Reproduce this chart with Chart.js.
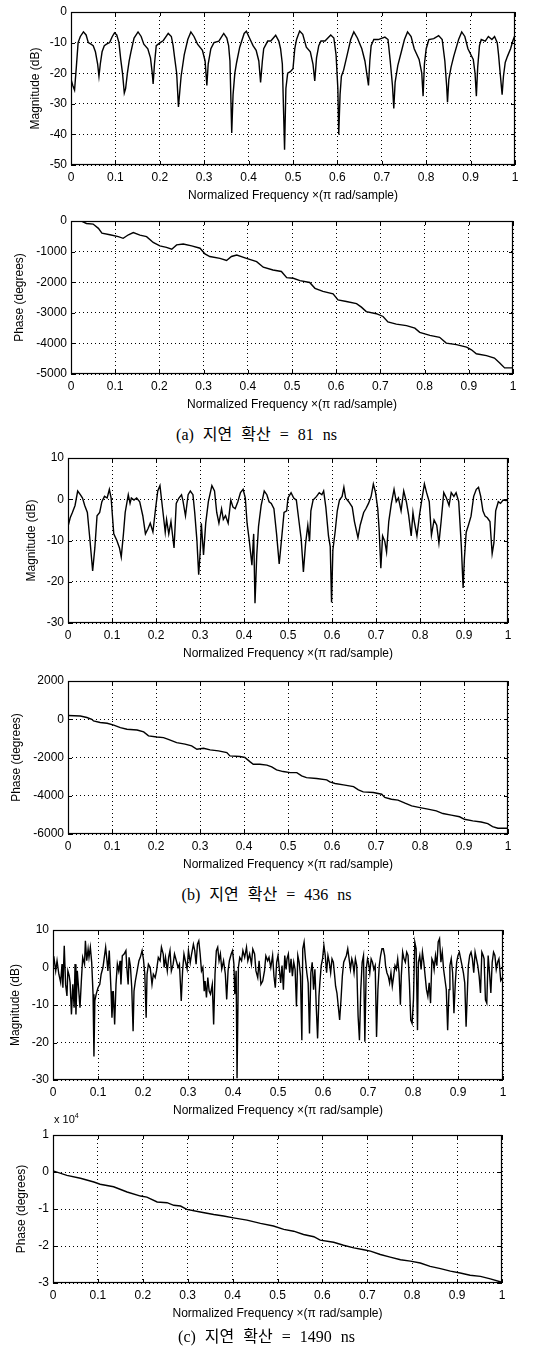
<!DOCTYPE html>
<html><head><meta charset="utf-8">
<script src="https://cdn.jsdelivr.net/npm/chart.js@4.4.1/dist/chart.umd.min.js"></script>
<style>
html,body{margin:0;padding:0;background:#fff;}
body{width:533px;height:1358px;position:relative;overflow:hidden;}
canvas{position:absolute;left:0;}
.cap{position:absolute;left:0;width:533px;text-align:center;font-family:"Liberation Serif","Noto Sans CJK KR",serif;font-size:16px;line-height:20px;color:#000;word-spacing:5px;white-space:pre;}
.exp{position:absolute;font-family:"Liberation Sans",Arial,sans-serif;font-size:11px;color:#000;line-height:12px;}
.exp sup{font-size:7px;vertical-align:5px;}
</style></head><body>
<canvas id="c1"></canvas>
<canvas id="c2"></canvas>
<div class="cap" id="capA" style="top:425px;left:-10px">(a) 지연 확산 = 81 ns</div>
<canvas id="c3"></canvas>
<canvas id="c4"></canvas>
<div class="cap" id="capB" style="top:885px">(b) 지연 확산 = 436 ns</div>
<canvas id="c5"></canvas>
<div class="exp" style="left:54px;top:1110px">x 10<sup>4</sup></div>
<canvas id="c6"></canvas>
<div class="cap" id="capC" style="top:1327px">(c) 지연 확산 = 1490 ns</div>
<script>
// ---------- tick values ----------
const freqTicks = [0,0.1,0.2,0.3,0.4,0.5,0.6,0.7,0.8,0.9,1];
const freqTickLabels = ['0','0.1','0.2','0.3','0.4','0.5','0.6','0.7','0.8','0.9','1'];
const magATicks = [0,-10,-20,-30,-40,-50];
const phaseATicks = [0,-1000,-2000,-3000,-4000,-5000];
const magBTicks = [10,0,-10,-20,-30];
const phaseBTicks = [2000,0,-2000,-4000,-6000];
const magCTicks = [10,0,-10,-20,-30];
const phaseCTicks = [10000,0,-10000,-20000,-30000];

// ---------- (a) magnitude ----------
const magAFreq = [
0,0.004,0.008,0.012,0.016,0.021,0.028,0.034,0.039,0.045,
0.05,0.055,0.06,0.063,0.066,0.07,0.075,0.08,0.087,0.093,
0.098,0.103,0.108,0.112,0.116,0.12,0.123,0.127,0.131,0.135,
0.142,0.151,0.158,0.164,0.173,0.179,0.183,0.185,0.188,0.192,
0.201,0.208,0.219,0.226,0.23,0.233,0.238,0.242,0.245,0.248,
0.255,0.263,0.27,0.277,0.285,0.296,0.302,0.306,0.309,0.315,
0.322,0.333,0.344,0.351,0.355,0.358,0.362,0.365,0.369,0.373,
0.38,0.39,0.395,0.402,0.41,0.417,0.423,0.427,0.431,0.434,
0.443,0.45,0.461,0.468,0.472,0.476,0.481,0.484,0.488,0.494,
0.5,0.504,0.508,0.515,0.522,0.53,0.539,0.545,0.549,0.553,
0.558,0.563,0.572,0.585,0.592,0.597,0.601,0.603,0.606,0.609,
0.614,0.622,0.63,0.637,0.645,0.655,0.662,0.667,0.67,0.673,
0.676,0.682,0.692,0.707,0.714,0.719,0.724,0.727,0.73,0.736,
0.744,0.751,0.758,0.766,0.773,0.784,0.79,0.793,0.796,0.8,
0.806,0.817,0.828,0.836,0.842,0.846,0.848,0.851,0.856,0.862,
0.873,0.88,0.887,0.894,0.906,0.91,0.913,0.916,0.92,0.924,
0.933,0.94,0.948,0.954,0.96,0.963,0.966,0.971,0.974,0.978,
0.983,0.99,0.995,1];
const magADb = [
-22,-24,-25.5,-18,-10,-8,-6.5,-7.5,-10,-10.5,
-11,-13,-17,-21,-17,-13,-11,-10.5,-10,-8,
-6.8,-7.5,-10,-15.5,-20,-26.5,-25,-20,-16,-13,
-8.5,-6.5,-8,-10.5,-12,-15,-20,-23.5,-17,-11,
-10,-9.3,-7,-8,-11,-14.5,-20,-31,-26,-21,
-14,-9,-6.5,-8,-10.5,-12.5,-16,-24,-17,-12,
-10,-9.5,-7,-8.5,-11,-16,-39.5,-27,-20,-16.5,
-11.5,-7,-6.3,-8.5,-11,-12.5,-16,-23,-16,-12,
-9.5,-9.5,-7.6,-9.5,-12,-17,-45,-25,-20,-19.5,
-18.5,-12,-9,-6.2,-7.3,-11.5,-13,-17,-22.5,-15,
-11,-9.5,-9.5,-7.5,-8.5,-14,-25,-40,-27,-21,
-19,-14,-9,-6.5,-8.5,-12,-16,-21,-24,-16,
-11,-9,-9,-8.2,-9,-16,-24,-31.5,-23,-17.5,
-13,-9,-6.5,-8,-12,-15.5,-20,-27.5,-17,-12,
-9,-8.7,-7.7,-9,-16,-24,-29.5,-22,-18,-14.5,
-9,-6.5,-8,-12,-15.5,-20,-27.5,-18,-11,-9,
-9.5,-8,-9,-8,-10,-14,-19,-27,-21,-16.5,
-14.5,-12,-9.5,-7.5];

// ---------- (a) phase ----------
const phaseAFreq = [
0,0.02,0.035,0.05,0.062,0.07,0.088,0.107,0.118,0.13,
0.141,0.156,0.171,0.186,0.201,0.216,0.228,0.239,0.254,0.273,
0.292,0.303,0.314,0.337,0.352,0.363,0.375,0.397,0.42,0.435,
0.457,0.476,0.488,0.503,0.518,0.54,0.552,0.57,0.593,0.604,
0.623,0.646,0.657,0.668,0.691,0.706,0.717,0.736,0.759,0.778,
0.789,0.812,0.834,0.849,0.872,0.895,0.906,0.917,0.94,0.958,
0.97,0.981,1];
const phaseADeg = [
0,20,-80,-100,-240,-400,-450,-510,-565,-450,
-380,-460,-510,-700,-815,-860,-920,-780,-750,-815,
-890,-1075,-1160,-1220,-1290,-1160,-1110,-1220,-1330,-1510,
-1600,-1650,-1850,-1870,-1950,-2010,-2200,-2300,-2380,-2580,
-2630,-2700,-2815,-2960,-3030,-3120,-3300,-3370,-3420,-3500,
-3640,-3740,-3800,-3990,-4040,-4120,-4210,-4340,-4400,-4480,
-4640,-4800,-4800];

// ---------- (b) magnitude ----------
const magBFreq = [
0,0.005,0.01,0.016,0.022,0.028,0.033,0.038,0.044,0.05,
0.056,0.061,0.066,0.072,0.077,0.083,0.089,0.094,0.098,0.104,
0.111,0.117,0.121,0.126,0.13,0.137,0.141,0.144,0.15,0.156,
0.163,0.17,0.176,0.182,0.187,0.193,0.199,0.204,0.209,0.215,
0.221,0.224,0.229,0.234,0.241,0.246,0.252,0.258,0.261,0.267,
0.273,0.278,0.284,0.288,0.293,0.297,0.301,0.303,0.308,0.313,
0.319,0.327,0.333,0.338,0.343,0.349,0.353,0.358,0.364,0.37,
0.375,0.38,0.386,0.392,0.398,0.403,0.407,0.412,0.418,0.422,
0.425,0.429,0.433,0.439,0.446,0.452,0.457,0.462,0.468,0.474,
0.48,0.485,0.491,0.497,0.5,0.507,0.513,0.519,0.525,0.53,
0.535,0.54,0.545,0.549,0.552,0.557,0.565,0.571,0.577,0.581,
0.586,0.592,0.596,0.599,0.602,0.607,0.612,0.617,0.623,0.627,
0.631,0.638,0.646,0.651,0.659,0.664,0.672,0.677,0.683,0.689,
0.694,0.699,0.704,0.707,0.711,0.715,0.72,0.724,0.729,0.735,
0.741,0.746,0.751,0.757,0.763,0.769,0.774,0.78,0.784,0.787,
0.793,0.799,0.804,0.81,0.815,0.821,0.826,0.832,0.838,0.843,
0.848,0.854,0.86,0.866,0.871,0.877,0.882,0.888,0.894,0.898,
0.901,0.905,0.91,0.916,0.922,0.928,0.933,0.938,0.943,0.948,
0.953,0.959,0.964,0.968,0.972,0.978,0.983,0.989,0.996,1];
const magBDb = [
-6.6,-4.5,-3.2,-1.5,2,1.1,0.3,-1.5,-3.2,-10,
-17.4,-11.8,-4,-3.2,-0.6,0.7,0.3,2.4,0.3,-8.4,
-10,-11.8,-14,-8.4,-3.2,1.1,-1,0.3,-0.2,0.3,
-0.6,-4,-8.4,-7.1,-5.8,-7.9,-2.3,2,3.3,-2.3,
-8,-4.9,-8.4,-5.4,-11.8,-1,0.3,1.1,-0.2,-4,
1.1,2,1.1,-3.2,-10,-18.3,-11.8,-5.8,-13.5,-5.8,
-0.6,3.3,2,-3.2,-5.8,-2.3,-4.9,-4,-5.8,-0.2,
-1.9,-2.3,-0.6,1.6,2.4,0.3,-5.8,-10,-16,-8.4,
-25.2,-13.5,-6.6,-1.5,2,1.1,-0.6,-1,-2.3,-8.4,
-15.7,-10.1,-3.2,-2.8,0.3,1.6,0.3,-0.2,-5.4,-9.7,
-17.6,-10.7,-6.3,-10.2,-2.8,-0.2,0.7,1.6,1.1,2,
-1.9,-8.9,-11.5,-25,-12.3,-8,-2.8,-0.2,0.7,2.9,
0.3,-0.6,-1.9,-5.4,-9.3,-6.3,-3.2,-2.3,-1,0.7,
3.7,1.6,-2.3,-7.1,-16.7,-8.9,-10.2,-12.8,-5.4,-1,
2.4,-0.6,0.3,-2.8,2,-0.6,-3.7,-8.9,-3.2,-5.4,
-8.9,-3.7,-0.2,3.7,1.6,-0.6,-8.7,-5,-6.3,-10.6,
-5.4,1.6,0.3,-1.5,1.6,0.7,1.6,-0.6,-11.5,-21.5,
-14.2,-8,-6.3,-4.1,0.7,2.4,2.9,0.7,-2.8,-4.1,
-4.5,-5.4,-13.2,-10.6,-2.8,-0.6,-1,-0.2,-0.3,-0.2];

// ---------- (b) phase ----------
const phaseBFreq = [
0,0.028,0.043,0.054,0.058,0.073,0.089,0.104,0.119,0.134,
0.157,0.172,0.183,0.202,0.217,0.228,0.247,0.266,0.281,0.293,
0.308,0.323,0.342,0.361,0.368,0.391,0.402,0.414,0.421,0.436,
0.452,0.463,0.474,0.489,0.505,0.52,0.531,0.542,0.565,0.588,
0.595,0.607,0.626,0.649,0.66,0.671,0.694,0.713,0.72,0.735,
0.75,0.766,0.781,0.8,0.818,0.837,0.852,0.871,0.89,0.901,
0.92,0.939,0.954,0.965,0.977,1];
const phaseBDeg = [
200,170,90,0,-90,-170,-210,-310,-435,-520,
-560,-660,-870,-925,-960,-1050,-1220,-1300,-1390,-1570,
-1515,-1600,-1655,-1740,-1915,-1950,-2000,-2230,-2350,-2350,
-2400,-2490,-2650,-2735,-2790,-2790,-2960,-3050,-3100,-3170,
-3275,-3360,-3430,-3520,-3690,-3795,-3830,-3920,-4090,-4180,
-4230,-4390,-4530,-4620,-4700,-4790,-4930,-5015,-5100,-5230,
-5315,-5370,-5460,-5610,-5700,-5700];

// ---------- (c) magnitude ----------
const magCFreq = [
0,0.002,0.006,0.009,0.013,0.017,0.02,0.022,0.025,0.028,
0.031,0.033,0.036,0.038,0.041,0.044,0.047,0.049,0.051,0.054,
0.057,0.06,0.063,0.066,0.07,0.072,0.075,0.078,0.08,0.083,
0.086,0.089,0.091,0.093,0.096,0.1,0.104,0.107,0.111,0.114,
0.117,0.12,0.122,0.125,0.129,0.131,0.134,0.137,0.14,0.143,
0.146,0.149,0.151,0.154,0.158,0.162,0.164,0.167,0.169,0.172,
0.175,0.178,0.18,0.183,0.187,0.191,0.194,0.198,0.201,0.204,
0.207,0.209,0.212,0.216,0.22,0.223,0.227,0.23,0.234,0.238,
0.241,0.245,0.247,0.25,0.254,0.257,0.26,0.263,0.267,0.27,
0.274,0.278,0.281,0.285,0.288,0.291,0.294,0.298,0.301,0.305,
0.308,0.312,0.315,0.318,0.321,0.324,0.327,0.33,0.333,0.336,
0.338,0.341,0.344,0.347,0.35,0.354,0.357,0.36,0.363,0.366,
0.369,0.372,0.375,0.379,0.383,0.386,0.389,0.392,0.396,0.399,
0.402,0.404,0.407,0.409,0.412,0.415,0.419,0.422,0.426,0.43,
0.433,0.437,0.441,0.444,0.448,0.451,0.455,0.458,0.462,0.466,
0.47,0.473,0.477,0.48,0.484,0.488,0.491,0.494,0.497,0.5,
0.503,0.506,0.509,0.512,0.515,0.518,0.52,0.523,0.526,0.529,
0.532,0.535,0.538,0.541,0.544,0.547,0.55,0.553,0.555,0.558,
0.561,0.564,0.567,0.57,0.573,0.576,0.579,0.582,0.585,0.588,
0.591,0.593,0.596,0.599,0.602,0.605,0.608,0.611,0.614,0.617,
0.62,0.623,0.626,0.628,0.631,0.634,0.637,0.64,0.643,0.646,
0.649,0.652,0.655,0.658,0.661,0.664,0.666,0.669,0.672,0.675,
0.678,0.681,0.684,0.687,0.69,0.693,0.696,0.699,0.701,0.704,
0.707,0.71,0.713,0.716,0.719,0.722,0.725,0.728,0.731,0.734,
0.737,0.739,0.742,0.745,0.748,0.751,0.754,0.757,0.76,0.763,
0.766,0.769,0.772,0.774,0.777,0.78,0.783,0.786,0.789,0.792,
0.795,0.798,0.801,0.804,0.807,0.81,0.812,0.815,0.818,0.821,
0.824,0.827,0.83,0.833,0.836,0.839,0.842,0.845,0.847,0.85,
0.853,0.856,0.859,0.862,0.865,0.868,0.871,0.874,0.877,0.88,
0.882,0.885,0.888,0.891,0.894,0.897,0.9,0.903,0.906,0.909,
0.912,0.915,0.918,0.921,0.923,0.926,0.929,0.932,0.935,0.938,
0.941,0.944,0.947,0.95,0.953,0.956,0.958,0.961,0.964,0.967,
0.97,0.973,0.976,0.979,0.982,0.985,0.988,0.991,0.995,1];
const magCDb = [
3,2.7,-0.9,1.8,-1.8,-4,0.9,-5.4,5.8,-4.5,
-7.6,-0.9,-2.2,-4,-12.5,-4.5,-10.7,0.9,-12.5,-0.9,
-5.8,-10.7,-3.6,2.7,0.9,7.1,1.8,4.9,2.7,5.4,
1.3,-7.1,-23.7,-8.9,-7.1,-5.4,-4.5,-1.8,0,2.7,
5.4,1.8,-0.9,4.5,-6.3,-13.4,-6.3,-15.2,-4.5,0.9,
-0.9,1.8,-4.5,3.1,3.6,4.5,0,-4.5,2.7,0.4,
-5.4,-17,-6.3,-3.6,-0.9,1.8,2.7,4.5,2.2,-1.8,
-13.4,-1.8,0.9,0,-4.5,-1.8,-2.7,-0.9,2.7,1.8,
5.4,3.6,0,2.7,-0.9,2.7,4.5,-0.9,0.9,3.6,
1.8,0,0.9,-8.9,-0.9,3.6,1.8,-0.4,4.5,1.3,
3.6,6.2,4.5,0.9,6.2,7.1,3.6,-0.9,0,-6.3,
-3.6,-8,-2.7,-6.3,-7.1,-4.5,-15.2,-1.8,4.5,5.4,
1.8,3.6,-0.4,1.8,-1.8,-8.5,-0.9,1.8,3.6,4.5,
0.9,-7.1,-0.9,-29.5,0,2.7,1.8,4.5,2.7,5.4,
1.8,3.6,0.9,4.9,3.6,-0.9,-2.7,1.8,-4.5,-3.6,
-0.9,3.1,1.8,2.7,0,3.2,-2.3,-5.4,1.4,3.2,
-0.5,-4.1,0.5,-5.9,3.2,-0.5,2.3,3.6,-1.4,2.3,
-2.3,1.4,-0.5,-10.4,3.2,1.4,-2.3,-19.4,5,6.8,
2.3,-1.4,-4.1,-17.6,-1.4,1.4,-5.9,-0.5,-10.4,-18.9,
-7.7,-4.1,0.5,2.3,5.9,3.2,-1.4,3.2,1.4,-1.4,
2.3,1.4,-2.3,-5,-6.8,-10.4,-14,-8.6,-2.3,1.4,
2.3,3.2,5,2.3,-0.5,2.3,1.4,-1.4,2.3,0.5,
-13,-19.4,-5.9,1.4,3.2,-19.8,-0.5,2.3,1.4,-1.4,
2.3,1.4,-0.5,0.5,-18.5,-5.9,0.5,3.2,5,5,
3.2,0.5,-1.4,-2.3,-4.1,-1.4,-5,-2.3,0.5,-0.5,
2.3,-1.4,-9.9,-2.3,4.1,2.3,1.4,4.1,3.2,-4.1,
-14,-14.9,-8.6,6.8,5,-16.7,1.4,3.2,-0.5,4.1,
1.4,-2.3,-5.9,-7.7,-4.1,-9.5,2.3,1.4,-0.5,3.2,
0.5,6.8,7.7,1.4,4.1,-0.5,-3.2,-5.9,-16.7,-5.9,
0.5,2.3,-1.4,-12.2,-4.1,1.4,3.2,4.1,2.3,0.5,
-1.4,-4.1,-15.8,-5.9,0.5,3.2,4.1,2.3,-1.4,4.1,
2.3,0.5,-2.3,-6.8,4.1,3.2,2.3,-8.6,-9.5,3.2,
-1.4,-6.8,1.4,4.1,3.2,-0.5,1.4,2.3,-3.5,-2.5];

// ---------- (c) phase ----------
const phaseCFreq = [
0,0.031,0.061,0.091,0.105,0.135,0.165,0.195,0.209,0.232,
0.254,0.269,0.284,0.298,0.328,0.358,0.38,0.402,0.432,0.462,
0.491,0.514,0.536,0.558,0.581,0.595,0.625,0.647,0.67,0.692,
0.707,0.729,0.751,0.774,0.796,0.818,0.84,0.863,0.885,0.907,
0.929,0.952,0.974,1];
const phaseCDeg = [
300,-900,-1700,-2700,-3300,-4000,-5400,-6500,-6800,-8100,
-8300,-9000,-9200,-10100,-10800,-11500,-11900,-12400,-13000,-13900,
-14600,-15500,-16000,-16900,-17500,-18400,-19000,-19800,-20500,-21000,
-21400,-22300,-23000,-23700,-24100,-24600,-25500,-26100,-26800,-27300,
-27900,-28200,-28900,-29800];

const xTitle = 'Normalized Frequency \u00d7(\u03c0 rad/sample)';
const FONT = '"Liberation Sans", Arial, Helvetica, sans-serif';

const framePlugin = {
  id: 'frame',
  afterDraw(chart) {
    const {ctx, chartArea: a, scales: {x, y}} = chart;
    ctx.save();
    ctx.strokeStyle = '#000';
    ctx.lineWidth = 1.2;
    ctx.strokeRect(a.left + 0.5, a.top + 0.5, a.right - a.left - 1, a.bottom - a.top - 1);
    ctx.lineWidth = 1;
    ctx.beginPath();
    x.ticks.forEach(t => {
      const px = Math.round(x.getPixelForValue(t.value)) + 0.5;
      ctx.moveTo(px, a.bottom); ctx.lineTo(px, a.bottom - 4);
      ctx.moveTo(px, a.top); ctx.lineTo(px, a.top + 4);
    });
    y.ticks.forEach(t => {
      const py = Math.round(y.getPixelForValue(t.value)) + 0.5;
      ctx.moveTo(a.left, py); ctx.lineTo(a.left + 4, py);
      ctx.moveTo(a.right, py); ctx.lineTo(a.right - 4, py);
    });
    ctx.stroke();
    ctx.restore();
  }
};

function makeChart(id, box, xs, ys, yTicks, yTitle, yFmt) {
  const cv = document.getElementById(id);
  const padTop = 12, bottomBand = 42;
  cv.width = 533;
  cv.height = box.B - box.T + padTop + bottomBand;
  cv.style.top = (box.T - padTop) + 'px';
  cv.style.width = '533px';
  cv.style.height = cv.height + 'px';
  const n = Math.min(xs.length, ys.length);
  const pts = [];
  for (let i = 0; i < n; i++) pts.push({x: xs[i], y: ys[i]});
  const yMax = Math.max(...yTicks), yMin = Math.min(...yTicks);
  return new Chart(cv, {
    type: 'line',
    data: {datasets: [{data: pts, borderColor: '#000', borderWidth: 1.4, pointRadius: 0, tension: 0, fill: false}]},
    options: {
      responsive: false, animation: false, devicePixelRatio: 1,
      layout: {padding: {top: padTop, left: 0, right: 533 - box.R, bottom: 0}},
      plugins: {legend: {display: false}, tooltip: {enabled: false}},
      scales: {
        x: {
          type: 'linear', min: 0, max: 1,
          afterBuildTicks: s => { s.ticks = freqTicks.map(v => ({value: v})); },
          afterFit: s => { s.height = bottomBand; },
          ticks: {color: '#000', font: {family: FONT, size: 12}, padding: 5, maxRotation: 0,
                  callback: (v) => { const k = freqTicks.indexOf(v); return k >= 0 ? freqTickLabels[k] : ''; }},
          grid: {color: '#000', lineWidth: 1, drawTicks: false},
          border: {display: false, dash: [1, 3]},
          title: {display: true, text: xTitle, color: '#000', font: {family: FONT, size: 12}, padding: {top: 0, bottom: 4}}
        },
        y: {
          type: 'linear', min: yMin, max: yMax,
          afterBuildTicks: s => { s.ticks = yTicks.map(v => ({value: v})); },
          afterFit: s => { s.width = box.L; },
          ticks: {color: '#000', font: {family: FONT, size: 12}, padding: 4,
                  callback: v => yFmt ? yFmt(v) : String(v)},
          grid: {color: '#000', lineWidth: 1, drawTicks: false},
          border: {display: false, dash: [1, 3]},
          title: {display: true, text: yTitle, color: '#000', font: {family: FONT, size: 12}, padding: {top: box.yt - 7, bottom: 0}}
        }
      }
    },
    plugins: [framePlugin]
  });
}

const boxes = {
  c1: {L: 71, R: 515, T: 12, B: 165, yt: 35},
  c2: {L: 71, R: 513, T: 221, B: 374, yt: 19},
  c3: {L: 68, R: 508, T: 458, B: 623, yt: 31},
  c4: {L: 68, R: 508, T: 681, B: 834, yt: 16},
  c5: {L: 53, R: 503, T: 930, B: 1080, yt: 15},
  c6: {L: 53, R: 502, T: 1135, B: 1283, yt: 21}
};

makeChart('c1', boxes.c1, magAFreq, magADb, magATicks, 'Magnitude (dB)');
makeChart('c2', boxes.c2, phaseAFreq, phaseADeg, phaseATicks, 'Phase (degrees)');
makeChart('c3', boxes.c3, magBFreq, magBDb, magBTicks, 'Magnitude (dB)');
makeChart('c4', boxes.c4, phaseBFreq, phaseBDeg, phaseBTicks, 'Phase (degrees)');
makeChart('c5', boxes.c5, magCFreq, magCDb, magCTicks, 'Magnitude (dB)');
makeChart('c6', boxes.c6, phaseCFreq, phaseCDeg, phaseCTicks, 'Phase (degrees)', v => String(v / 10000));
</script>
</body></html>
